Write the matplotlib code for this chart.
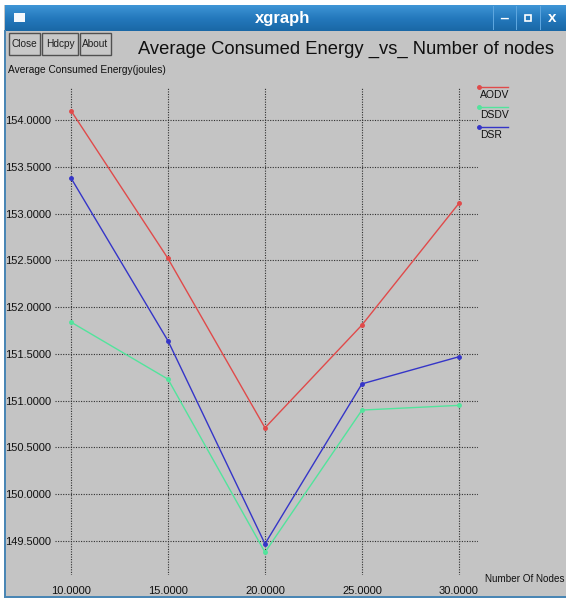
import matplotlib.pyplot as plt
import numpy as np
from matplotlib.lines import Line2D
from matplotlib.patches import Rectangle
from matplotlib.colors import LinearSegmentedColormap

# average consumed energy (joules) per protocol vs number of nodes
nodes = [10, 15, 20, 25, 30]
aodv = [154.10, 152.52, 150.71, 151.81, 153.11]
dsdv = [151.84, 151.23, 149.38, 150.90, 150.95]
dsr = [153.38, 151.64, 149.47, 151.18, 151.47]
protocols = ['AODV', 'DSDV', 'DSR']
colors = ['#e04a4a', '#52e49c', '#3535c8']
yticks = [149.5, 150.0, 150.5, 151.0, 151.5, 152.0, 152.5, 153.0, 153.5, 154.0]

W, H = 566, 601
fig = plt.figure(figsize=(W / 100, H / 100), dpi=100)
fig.patch.set_facecolor('#c4c4c4')
sans = ['Liberation Sans', 'DejaVu Sans']


def fx(x):
    return x / W


def fy(y):
    return 1 - y / H


def rect(x0, y0, x1, y1, **kw):
    fig.add_artist(Rectangle((fx(x0), fy(y1)), fx(x1) - fx(x0), fy(y0) - fy(y1),
                             transform=fig.transFigure, **kw))


# screen around the window
rect(0, 0, W, 5, facecolor='white', edgecolor='none')
rect(0, 0, 4, H, facecolor='white', edgecolor='none')
rect(0, 598, W, H, facecolor='white', edgecolor='none')
rect(4, 30, 6, 598, facecolor='#4a86b4', edgecolor='none')
rect(4, 596, W, 598, facecolor='#4a86b4', edgecolor='none')

# title bar with gradient
bar = fig.add_axes([fx(5), fy(31), fx(W) - fx(5), fy(5) - fy(31)])
grad = np.linspace(0, 1, 50).reshape(-1, 1)
bar.imshow(grad, aspect='auto', extent=[0, 1, 0, 1],
           cmap=LinearSegmentedColormap.from_list('tb', ['#3f95d6', '#2479bd', '#1a68a6']))
bar.set_axis_off()
fig.text(fx(283), fy(18), 'xgraph', color='white', fontsize=12, fontweight='bold',
         family=sans, ha='center', va='center')
rect(14, 13, 25, 22, facecolor='#f4f8fc', edgecolor='none')
for xs in (493, 516, 540):
    rect(xs, 6, xs + 1, 30, facecolor='#5ea6de', edgecolor='none')
fig.text(fx(504), fy(20), '_', color='white', fontsize=10, fontweight='bold',
         family=sans, ha='center', va='bottom')
rect(525, 15, 531, 21, facecolor='none', edgecolor='white', linewidth=1.2)
fig.text(fx(552), fy(18), 'x', color='white', fontsize=11, fontweight='bold',
         family=sans, ha='center', va='center')

# xgraph buttons
for label, x0, x1 in [('Close', 9, 40), ('Hdcpy', 42, 78), ('About', 80, 111)]:
    rect(x0, 33, x1, 55, facecolor='#c8c8c8', edgecolor='#505050', linewidth=1)
    fig.text(fx((x0 + x1) / 2), fy(44), label, fontsize=7.3, family=sans,
             ha='center', va='center', color='#202020')

fig.text(fx(346), fy(49), 'Average Consumed Energy _vs_ Number of nodes', fontsize=13.2,
         family=sans, ha='center', va='center', color='#101010')
fig.text(fx(8), fy(70), 'Average Consumed Energy(joules)', fontsize=7.3, family=sans,
         ha='left', va='center', color='#101010')
fig.text(fx(485), fy(579), 'Number Of Nodes', fontsize=7.1, family=sans,
         ha='left', va='center', color='#101010')

# plotting area
ax = fig.add_axes([fx(55), fy(575), fx(478) - fx(55), fy(87) - fy(575)])
ax.set_facecolor('none')
for name, vals, c in zip(protocols, [aodv, dsdv, dsr], colors):
    ax.plot(nodes, vals, color=c, lw=1.0, marker='o', ms=2.5, label=name)
ax.set_xlim(9.175, 30.98)
ax.set_ylim(149.137, 154.353)
ax.set_xticks(nodes)
ax.set_xticklabels([f'{n:.4f}' for n in nodes], family=sans, fontsize=8)
ax.set_yticks(yticks)
ax.set_yticklabels([f'{v:.4f}' for v in yticks], family=sans, fontsize=8)
ax.tick_params(length=0, colors='#101010')
ax.tick_params(axis='y', pad=2.5)
ax.tick_params(axis='x', pad=8)
ax.grid(True, color='#303030', linestyle=(0, (1, 1.3)), linewidth=0.8)
for s in ax.spines.values():
    s.set_visible(False)

# legend in xgraph style: line with name underneath
for i, (name, c) in enumerate(zip(protocols, colors)):
    ly = 87 + 20 * i
    fig.add_artist(Line2D([fx(478), fx(508)], [fy(ly), fy(ly)], color=c, lw=1.0,
                          transform=fig.transFigure))
    fig.add_artist(Line2D([fx(479)], [fy(ly)], color=c, marker='o', ms=2.5,
                          transform=fig.transFigure))
    fig.text(fx(480), fy(ly + 8), name, fontsize=7.5, family=sans,
             ha='left', va='center', color='#101010')

fig.savefig('out.png', dpi=100, facecolor=fig.get_facecolor())
